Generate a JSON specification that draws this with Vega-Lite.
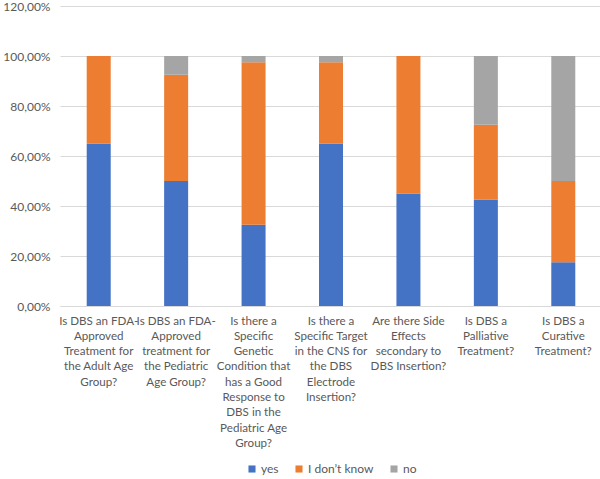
{
  "$schema": "https://vega.github.io/schema/vega-lite/v6.json",
  "width": 542,
  "height": 300,
  "padding": {"left": 2, "top": 0, "right": 2, "bottom": 0},
  "background": "white",
  "config": {
    "view": {"stroke": null},
    "font": "Lato",
    "axis": {"labelFont": "Lato", "labelColor": "#595959", "labelFontSize": 12},
    "legend": {"labelFont": "Lato", "labelColor": "#595959", "labelFontSize": 12, "layout": {"bottom": {"anchor": "middle"}}}
  },
  "data": {
    "values": [
      {"q": "Is DBS an FDA-|Approved|Treatment for|the Adult Age|Group?", "answer": "yes", "ord": 1, "value": 0.65},
      {"q": "Is DBS an FDA-|Approved|Treatment for|the Adult Age|Group?", "answer": "I don’t know", "ord": 2, "value": 0.35},
      {"q": "Is DBS an FDA-|Approved|Treatment for|the Adult Age|Group?", "answer": "no", "ord": 3, "value": 0.0},
      {"q": "Is DBS an FDA-|Approved|treatment for|the Pediatric|Age Group?", "answer": "yes", "ord": 1, "value": 0.5},
      {"q": "Is DBS an FDA-|Approved|treatment for|the Pediatric|Age Group?", "answer": "I don’t know", "ord": 2, "value": 0.425},
      {"q": "Is DBS an FDA-|Approved|treatment for|the Pediatric|Age Group?", "answer": "no", "ord": 3, "value": 0.075},
      {"q": "Is there a|Specific|Genetic|Condition that|has a Good|Response to|DBS in the|Pediatric Age|Group?", "answer": "yes", "ord": 1, "value": 0.325},
      {"q": "Is there a|Specific|Genetic|Condition that|has a Good|Response to|DBS in the|Pediatric Age|Group?", "answer": "I don’t know", "ord": 2, "value": 0.65},
      {"q": "Is there a|Specific|Genetic|Condition that|has a Good|Response to|DBS in the|Pediatric Age|Group?", "answer": "no", "ord": 3, "value": 0.025},
      {"q": "Is there a|Specific Target|in the CNS for|the DBS|Electrode|Insertion?", "answer": "yes", "ord": 1, "value": 0.65},
      {"q": "Is there a|Specific Target|in the CNS for|the DBS|Electrode|Insertion?", "answer": "I don’t know", "ord": 2, "value": 0.325},
      {"q": "Is there a|Specific Target|in the CNS for|the DBS|Electrode|Insertion?", "answer": "no", "ord": 3, "value": 0.025},
      {"q": "Are there Side|Effects|secondary to|DBS Insertion?", "answer": "yes", "ord": 1, "value": 0.45},
      {"q": "Are there Side|Effects|secondary to|DBS Insertion?", "answer": "I don’t know", "ord": 2, "value": 0.55},
      {"q": "Are there Side|Effects|secondary to|DBS Insertion?", "answer": "no", "ord": 3, "value": 0.0},
      {"q": "Is DBS a|Palliative|Treatment?", "answer": "yes", "ord": 1, "value": 0.425},
      {"q": "Is DBS a|Palliative|Treatment?", "answer": "I don’t know", "ord": 2, "value": 0.3},
      {"q": "Is DBS a|Palliative|Treatment?", "answer": "no", "ord": 3, "value": 0.275},
      {"q": "Is DBS a|Curative|Treatment?", "answer": "yes", "ord": 1, "value": 0.175},
      {"q": "Is DBS a|Curative|Treatment?", "answer": "I don’t know", "ord": 2, "value": 0.325},
      {"q": "Is DBS a|Curative|Treatment?", "answer": "no", "ord": 3, "value": 0.5}
    ]
  },
  "mark": {"type": "bar", "size": 24},
  "encoding": {
    "x": {
      "field": "q",
      "type": "nominal",
      "sort": null,
      "title": null,
      "axis": {
        "labelAngle": 0,
        "labelExpr": "split(datum.value, '|')",
        "labelFontSize": 11.6,
        "labelLineHeight": 15.3,
        "labelPadding": 9,
        "labelLimit": 0,
        "ticks": false,
        "domainColor": "#D9D9D9",
        "labelBaseline": "top"
      }
    },
    "y": {
      "field": "value",
      "type": "quantitative",
      "aggregate": "sum",
      "stack": "zero",
      "title": null,
      "scale": {"domain": [0, 1.2]},
      "axis": {
        "values": [0, 0.2, 0.4, 0.6, 0.8, 1.0, 1.2],
        "labelExpr": "replace(format(datum.value, '.2%'), '.', ',')",
        "domain": false,
        "ticks": false,
        "gridColor": "#D9D9D9",
        "labelPadding": 10
      }
    },
    "color": {
      "field": "answer",
      "type": "nominal",
      "sort": ["yes", "I don’t know", "no"],
      "scale": {"domain": ["yes", "I don’t know", "no"], "range": ["#4472C4", "#ED7D31", "#A5A5A5"]},
      "legend": {
        "title": null,
        "orient": "bottom",
        "direction": "horizontal",
        "symbolType": "square",
        "symbolSize": 50,
        "symbolStrokeWidth": 0,
        "columnPadding": 14,
        "labelOffset": 3,
        "offset": 14
      }
    },
    "order": {"field": "ord", "type": "quantitative"}
  }
}
